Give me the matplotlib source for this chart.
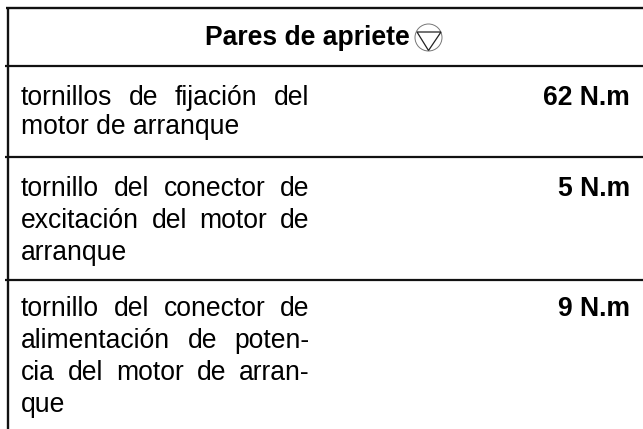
import matplotlib
matplotlib.use("Agg")
import matplotlib.pyplot as plt
from matplotlib.patches import Circle, Polygon

W, H = 643, 429
FONT = "Liberation Sans"
SIZE = 19.1

title = "Pares de apriete"
row_lines = [
    [("tornillos de fijación del", True), ("motor de arranque", False)],
    [("tornillo del conector de", True), ("excitación del motor de", True), ("arranque", False)],
    [("tornillo del conector de", True), ("alimentación de poten-", True),
     ("cia del motor de arran-", True), ("que", False)],
]
torques = ["62 N.m", "5 N.m", "9 N.m"]
rule_y = [66, 156.7, 279.5]
first_baseline = [105, 196, 316]
leading = [29, 32, 32]
LEFT, RIGHT = 21, 309.5
VALUE_RIGHT = 630


def text_width(ax, s):
    t = ax.text(0, 0, s, family=FONT, fontsize=SIZE)
    w = t.get_window_extent(ax.figure.canvas.get_renderer()).width
    t.remove()
    return w


def draw_line(ax, s, y, justify):
    # justified lines are spread word by word between the two margins
    words = s.split(" ")
    if not justify or len(words) == 1:
        ax.text(LEFT, y, s, family=FONT, fontsize=SIZE, va="baseline", color="black")
        return
    widths = [text_width(ax, w) for w in words]
    gap = (RIGHT - LEFT - sum(widths)) / (len(words) - 1)
    x = LEFT
    for w, wd in zip(words, widths):
        ax.text(x, y, w, family=FONT, fontsize=SIZE, va="baseline", color="black")
        x += wd + gap


fig = plt.figure(figsize=(W / 100, H / 100), dpi=100)
ax = fig.add_axes([0, 0, 1, 1])
ax.set_xlim(0, W)
ax.set_ylim(H, 0)
ax.axis("off")
fig.canvas.draw()

ax.plot([8.3, 8.3], [7, H], color="#111111", lw=1.7, solid_capstyle="butt")
ax.plot([6, W], [7.5, 7.5], color="#111111", lw=1.7, solid_capstyle="butt")
for y in rule_y:
    ax.plot([4.5, W], [y, y], color="#111111", lw=1.6, solid_capstyle="butt")

ax.text(205, 45, title, family=FONT, fontsize=SIZE, weight="bold", va="baseline", color="black")

# torque symbol next to the title
ax.add_patch(Circle((428.5, 37.5), 13.5, fill=False, ec="#777777", lw=0.7))
ax.add_patch(Polygon([(417, 32), (441, 32), (428.5, 50.5)], closed=True, fill=False,
                     ec="#222222", lw=0.9))

for lines, value, y0, lead in zip(row_lines, torques, first_baseline, leading):
    for i, (s, justify) in enumerate(lines):
        draw_line(ax, s, y0 + i * lead, justify)
    ax.text(VALUE_RIGHT, y0, value, family=FONT, fontsize=SIZE, weight="bold",
            ha="right", va="baseline", color="black")

fig.savefig("out.png", dpi=100)
